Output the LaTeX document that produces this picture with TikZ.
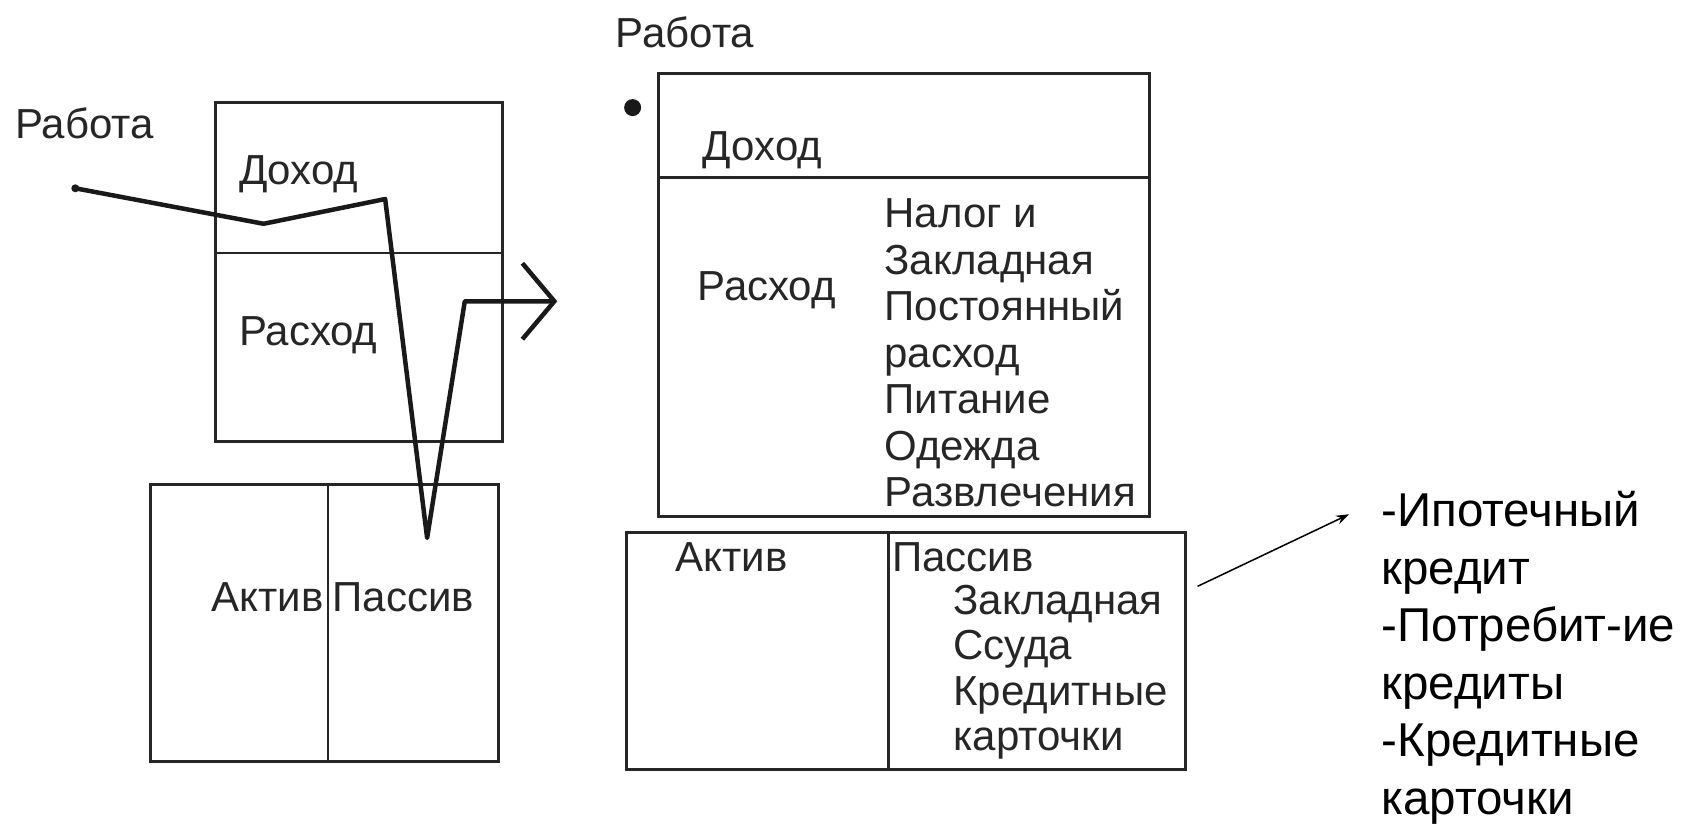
\documentclass[tikz,border=0pt]{standalone}
\usepackage{fontspec}
\setmainfont{Liberation Sans}
\usetikzlibrary{arrows.meta,fit}
\begin{document}
\begin{tikzpicture}[x=1.076pt,y=-1.076pt,
  boxframe/.style={draw=black!85, line width=3pt, inner sep=0pt},
  divider/.style={draw=black!85, line width=2.5pt},
  lbl/.style={inner sep=0pt, text=black!85, font=\fontsize{42}{46.5}\selectfont},
  listlbl/.style={lbl, align=left, anchor=base west},
  flow/.style={draw=black!90, line width=4.5pt, line join=round, line cap=round},
  big/.style={inner sep=0pt, text=black, align=left, anchor=base west, font=\fontsize{47.5}{57.5}\selectfont}]
\useasboundingbox (0,0) rectangle (1568,767.7);

% left top box
\coordinate (ltNW) at (200,95);
\coordinate (ltSE) at (467,410);
\node[boxframe, fit=(ltNW)(ltSE)] (lt) {};
\coordinate (ltdivW) at (200,235);
\coordinate (ltdivE) at (467,235);
\draw[divider] (ltdivW) -- (ltdivE);
\node[lbl, anchor=west] (ltinc) at (222,162) {Доход};
\node[lbl, anchor=west] (ltexp) at (222,312) {Расход};

% left bottom box
\coordinate (lbNW) at (140,450);
\coordinate (lbSE) at (463,708);
\node[boxframe, fit=(lbNW)(lbSE)] (lb) {};
\coordinate (lbdivN) at (305,450);
\coordinate (lbdivS) at (305,708);
\draw[divider] (lbdivN) -- (lbdivS);
\node[lbl, anchor=east] (lbact) at (301,555) {Актив};
\node[lbl, anchor=west] (lbpas) at (309,555) {Пассив};

% left label and flow line
\node[lbl, anchor=west] (lwork) at (14,115) {Работа};
\coordinate (p0) at (70,175);
\coordinate (p1) at (245,208);
\coordinate (p2) at (358,185);
\coordinate (p3) at (397,500);
\coordinate (p4) at (432,280);
\coordinate (p5) at (518,280);
\fill[black!90] (p0) circle (4pt);
\draw[flow, -{Straight Barb[length=32pt, width=76pt, line width=4.5pt]}] (p0) -- (p1) -- (p2) -- (p3) -- (p4) -- (p5);

% right top box
\node[lbl, anchor=west] (rwork) at (572,30) {Работа};
\node[circle, fill=black!90, minimum size=17pt, inner sep=0pt] (rdot) at (588,100) {};
\coordinate (rtNW) at (612,68);
\coordinate (rtSE) at (1068,480);
\node[boxframe, fit=(rtNW)(rtSE)] (rt) {};
\coordinate (rtdivW) at (612,165);
\coordinate (rtdivE) at (1068,165);
\draw[divider] (rtdivW) -- (rtdivE);
\node[lbl, anchor=west] (rtinc) at (653,140) {Доход};
\node[lbl, anchor=west] (rtexp) at (648,270) {Расход};
\node[listlbl] (rtlist) at (822,471) {Налог и\\Закладная\\Постоянный\\расход\\Питание\\Одежда\\Развлечения};

% right bottom box
\coordinate (rbNW) at (582,495);
\coordinate (rbSE) at (1102,715);
\node[boxframe, fit=(rbNW)(rbSE)] (rb) {};
\coordinate (rbdivN) at (826,495);
\coordinate (rbdivS) at (826,715);
\draw[divider] (rbdivN) -- (rbdivS);
\node[lbl, anchor=west] (rbact) at (628,518) {Актив};
\node[lbl, anchor=west] (rbpas) at (829,518) {Пассив};
\node[listlbl, font=\fontsize{42}{45.5}\selectfont] (rblist) at (886,698) {Закладная\\Ссуда\\Кредитные\\карточки};

% annotation
\coordinate (astart) at (1113,545);
\coordinate (aend) at (1254,478);
\draw[black, line width=1.5pt, -{Stealth[length=13pt, width=9pt]}] (astart) -- (aend);
\node[big] (credits) at (1284,757) {-Ипотечный\\кредит\\-Потребит-ие\\кредиты\\-Кредитные\\карточки};
\end{tikzpicture}
\end{document}
